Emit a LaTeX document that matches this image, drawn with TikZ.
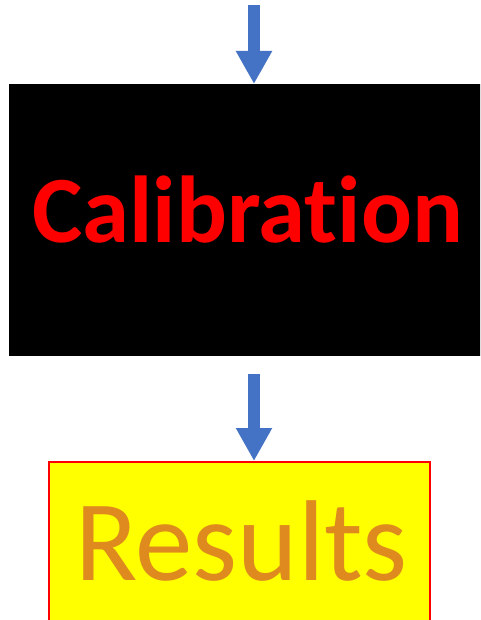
\documentclass[tikz,border=0pt]{standalone}
\usepackage{fontspec}
\setmainfont{Carlito}[Ligatures={NoCommon}]
\usetikzlibrary{arrows.meta}
\definecolor{arrowblue}{RGB}{68,114,196}
\definecolor{resorange}{RGB}{222,138,30}
\definecolor{pureyellow}{RGB}{255,255,0}
\definecolor{purered}{RGB}{255,0,0}
\tikzset{
  flowarrow/.style={draw=arrowblue, line width=12pt, -{Triangle[width=34pt,length=33pt]}},
  box/.style={inner sep=0pt, outer sep=0pt},
  label/.style={inner sep=0pt, anchor=base}
}
\begin{document}
\begin{tikzpicture}[x=1pt,y=-1pt]
\useasboundingbox (0,0) rectangle (480,620);
\clip (0,0) rectangle (480,620);
\node[box, fill=black, minimum width=472pt, minimum height=272pt, anchor=north west] (cal) at (9,84) {};
\node[box, fill=pureyellow, draw=purered, line width=2pt, minimum width=381pt, minimum height=180pt, anchor=north west] (res) at (48.5,462) {};
\node[label, text=purered, font=\bfseries\fontsize{95}{100}\selectfont] (caltext) at (247.5,242) {Calibration};
\node[label, text=resorange, font=\fontsize{115}{120}\selectfont] (restext) at (241.5,580) {Results};
\coordinate (top) at (254,5);
\coordinate (mid) at (254,374);
\draw[flowarrow] (top) -- (254,84) coordinate (calin);
\draw[flowarrow] (mid) -- (254,461) coordinate (resin);
\end{tikzpicture}
\end{document}
